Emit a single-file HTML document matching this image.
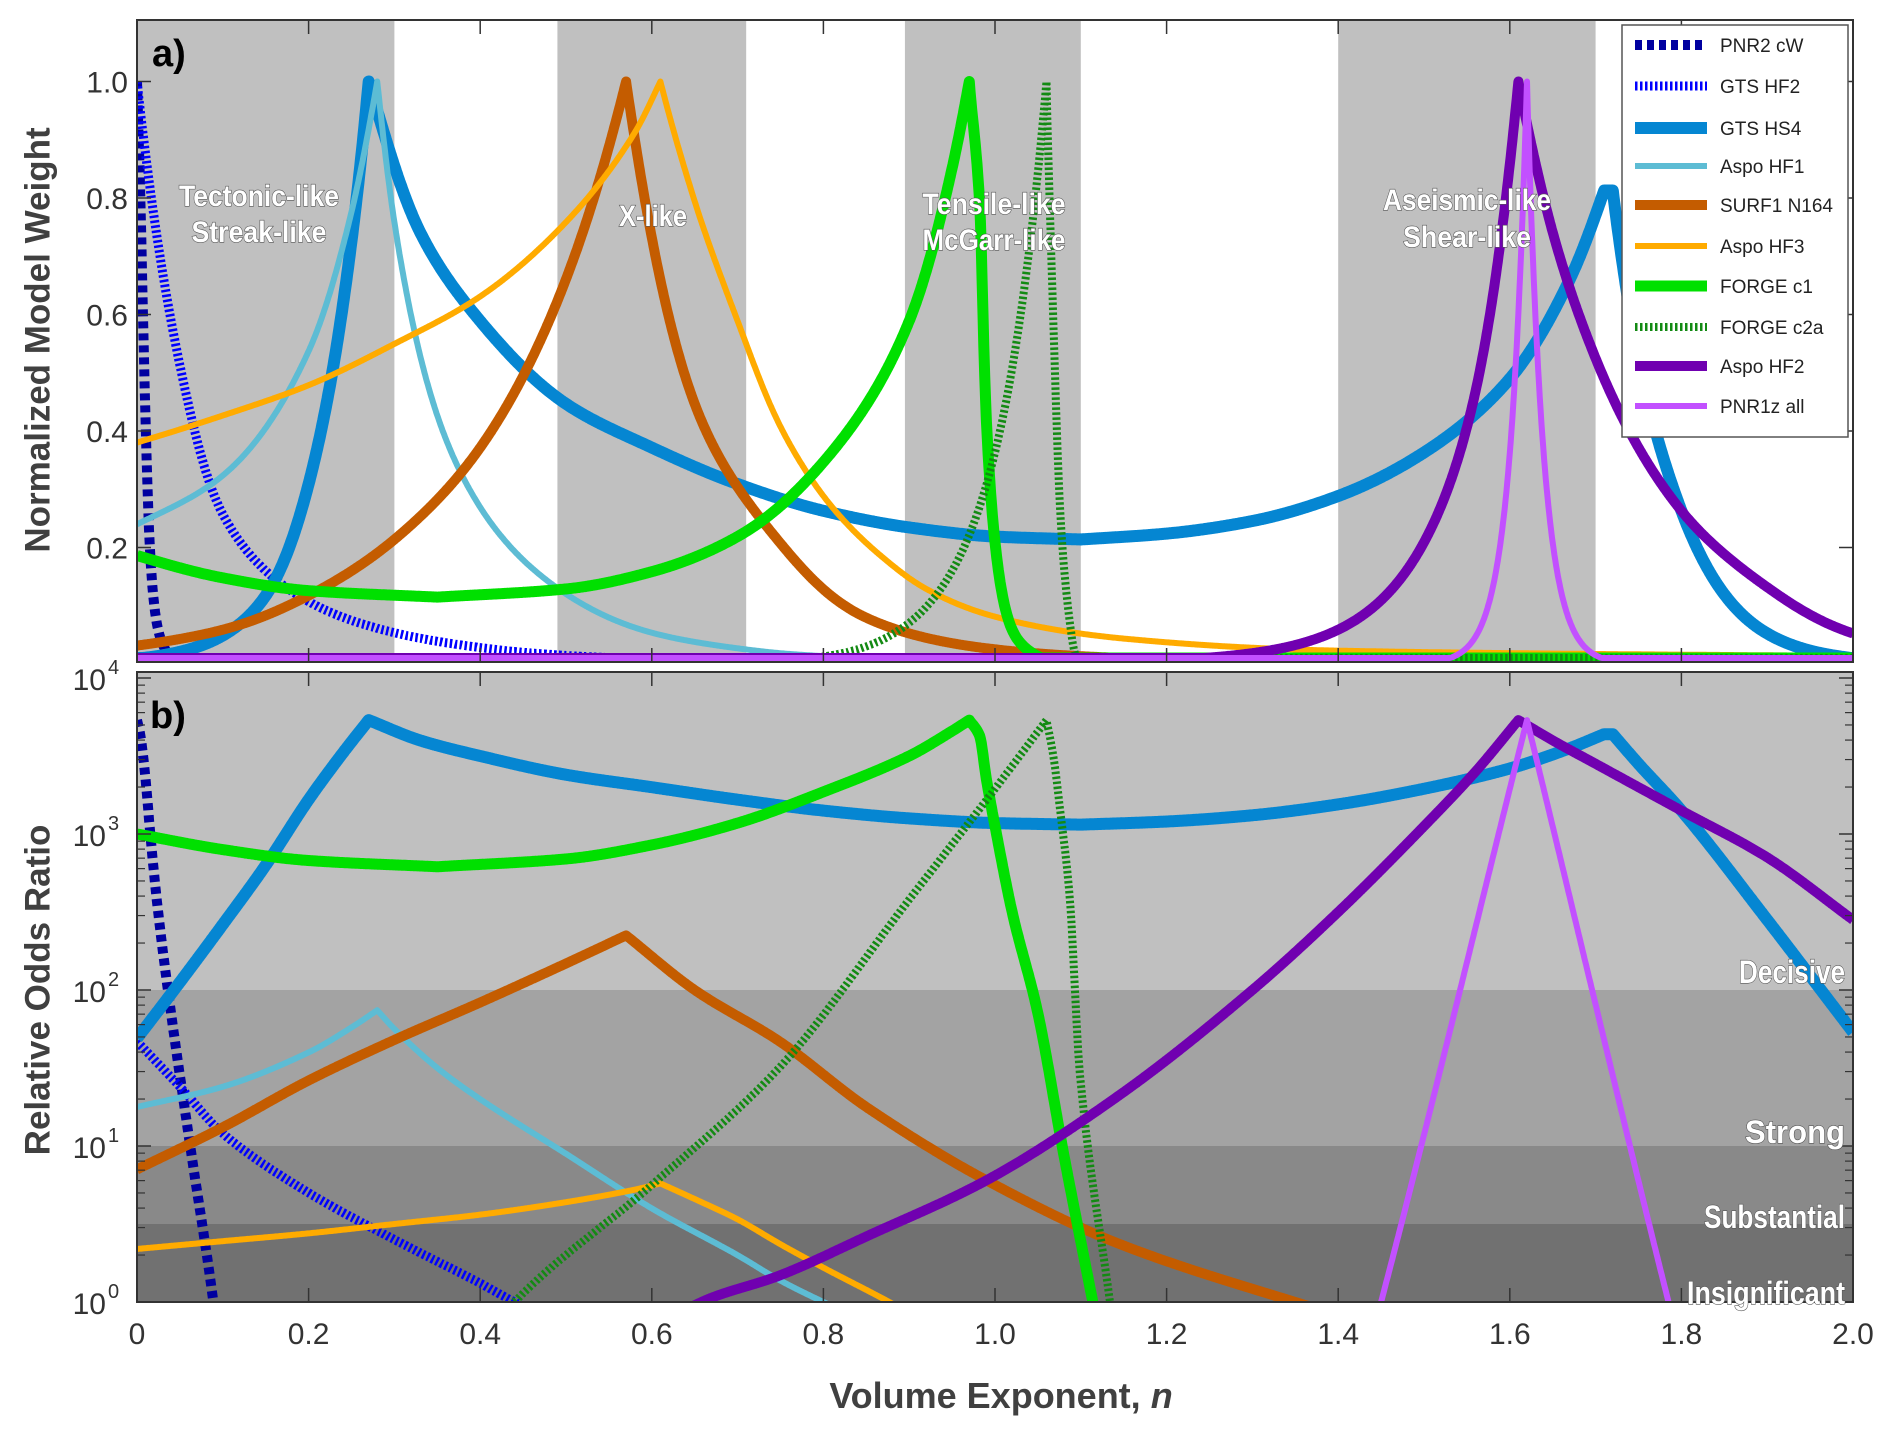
<!DOCTYPE html>
<html><head><meta charset="utf-8"><style>
html,body{margin:0;padding:0;background:#fff;}
svg{display:block;font-family:"Liberation Sans",sans-serif;}
.ann{font-family:"Liberation Sans Narrow","Liberation Sans",sans-serif;font-weight:bold;fill:#fff;stroke:#555;stroke-width:1.2px;paint-order:stroke;}
.tick{fill:#333;font-size:30px;}
</style></head><body>
<svg id="chart" width="1892" height="1436" viewBox="0 0 1892 1436">
<defs>
<clipPath id="clipA"><rect x="137" y="20" width="1716" height="642"/></clipPath>
<clipPath id="clipB"><rect x="137" y="672" width="1716" height="630"/></clipPath>
</defs>
<g id="panelA"></g>
<g id="panelB"></g>
<g id="labels">
<text x="40" y="340" transform="rotate(-90 40 340)" text-anchor="middle" dominant-baseline="middle" font-size="35" font-weight="bold" fill="#404040">Normalized Model Weight</text>
<text x="40" y="990" transform="rotate(-90 40 990)" text-anchor="middle" dominant-baseline="middle" font-size="35" font-weight="bold" fill="#404040">Relative Odds Ratio</text>
<text x="1001" y="1408" text-anchor="middle" font-size="36" font-weight="bold" fill="#404040">Volume Exponent, <tspan font-style="italic">n</tspan></text>
</g>
</svg>
<script>
// x positions (volume exponent) and log10 relative odds for each series
const pnr2cwX=[0,0.004,0.01,0.015,0.023,0.036,0.062,0.089,0.12,0.3,2.0];
const pnr2cwL=[3.73,3.63,3.35,3.03,2.58,2.0,1.0,0,-1.5,-4,-8];
const gtshf2X=[0,0.05,0.1,0.2,0.3,0.4,0.44,0.6,1.0,2.0];
const gtshf2L=[1.67,1.38,1.08,0.7,0.4,0.12,0,-0.4,-1,-2];
const gtshs4X=[0,0.05,0.1,0.15,0.2,0.24,0.27,0.33,0.4,0.5,0.6,0.7,0.8,0.9,1.0,1.1,1.2,1.3,1.4,1.5,1.6,1.67,1.71,1.72,1.75,1.8,1.9,2.0];
const gtshs4L=[1.69,2.05,2.42,2.8,3.22,3.52,3.73,3.6,3.5,3.38,3.3,3.22,3.15,3.1,3.07,3.06,3.08,3.12,3.19,3.29,3.42,3.55,3.64,3.64,3.45,3.15,2.45,1.73];
const aspohf1X=[0,0.1,0.2,0.25,0.28,0.3,0.35,0.4,0.5,0.6,0.7,0.749,0.8,1.0,2.0];
const aspohf1L=[1.25,1.38,1.6,1.76,1.87,1.75,1.5,1.3,0.95,0.6,0.3,0.14,0,-0.5,-1.5];
const surfX=[0,0.1,0.2,0.3,0.4,0.5,0.57,0.65,0.749,0.85,0.99,1.146,1.35,1.6,2.0];
const surfL=[0.85,1.12,1.42,1.68,1.92,2.17,2.35,2.0,1.67,1.25,0.78,0.37,0,-0.4,-0.9];
const aspohf3X=[0,0.1,0.2,0.3,0.4,0.5,0.58,0.61,0.65,0.7,0.75,0.8,0.87,0.92,1.0,1.15,1.4,2.0];
const aspohf3L=[0.34,0.39,0.44,0.5,0.56,0.64,0.72,0.76,0.66,0.53,0.37,0.22,0.02,-0.13,-0.33,-0.6,-0.88,-1.1];
const forgec1X=[0,0.1,0.2,0.35,0.5,0.6,0.7,0.8,0.9,0.95,0.97,0.982,0.99,1.0,1.02,1.05,1.08,1.114,1.15,1.3,2.0];
const forgec1L=[3.0,2.9,2.83,2.79,2.84,2.93,3.07,3.27,3.5,3.66,3.73,3.63,3.35,3.05,2.5,1.85,0.95,0,-1,-3,-6];
const forgec2aX=[0,0.3,0.44,0.6,0.75,0.9,1.0,1.06,1.068,1.076,1.087,1.099,1.134,1.17,2.0];
const forgec2aL=[-4,-1.0,0,0.75,1.51,2.58,3.29,3.73,3.5,3.15,2.6,1.46,0,-1.5,-6];
const aspohf2X=[0,0.5,0.658,0.749,0.85,0.99,1.146,1.3,1.4,1.5,1.56,1.61,1.65,1.7,1.8,1.9,2.0];
const aspohf2L=[-4,-0.6,0,0.17,0.42,0.78,1.33,2.0,2.5,3.05,3.4,3.73,3.6,3.45,3.15,2.85,2.45];
const pnr1zX=[0,1.3,1.45,1.62,1.785,1.95,2.0];
const pnr1zL=[-8,-3,0,3.73,0,-3.5,-5];

const seriesNames=['PNR2 cW','GTS HF2','GTS HS4','Aspo HF1','SURF1 N164','Aspo HF3','FORGE c1','FORGE c2a','Aspo HF2','PNR1z all'];
const xTicks=[0,0.2,0.4,0.6,0.8,1.0,1.2,1.4,1.6,1.8,2.0];
const xTickLabels=['0','0.2','0.4','0.6','0.8','1.0','1.2','1.4','1.6','1.8','2.0'];
const aTicks=[0.2,0.4,0.6,0.8,1.0];
const aTickLabels=['0.2','0.4','0.6','0.8','1.0'];
const bTicks=[0,1,2,3,4];
const bands=[[0,0.3],[0.49,0.71],[0.895,1.1],[1.4,1.7]];
const oddsLevels=[0,0.5,1,2,4.12];
const oddsNames=['Insignificant','Substantial','Strong','Decisive'];

const NS='http://www.w3.org/2000/svg';
const L=137,R=1853,AT=20,AB=662,BT=672,BB=1302;
const xs=x=>L+(x/2)*(R-L);
const ay=v=>664-v*582.5;
const by=l=>1302-l*156;
function mk(tag,attrs,parent){const e=document.createElementNS(NS,tag);for(const k in attrs)e.setAttribute(k,attrs[k]);parent.appendChild(e);return e;}
function makeInterp(X,Y){
 const n=X.length,d=[],mL=[],mR=[];
 for(let i=0;i<n-1;i++)d.push((Y[i+1]-Y[i])/(X[i+1]-X[i]));
 for(let i=0;i<n;i++){
  if(i===0){mL[i]=mR[i]=d[0];continue;}
  if(i===n-1){mL[i]=mR[i]=d[n-2];continue;}
  const a=d[i-1],b=d[i];
  if(a*b>0){const m=2*a*b/(a+b);mL[i]=mR[i]=m;}
  else{mL[i]=a;mR[i]=b;}
 }
 return function(x){
  if(x<=X[0])return Y[0];
  for(let i=1;i<n;i++){if(x<=X[i]){
   const h=X[i]-X[i-1],t=(x-X[i-1])/h,t2=t*t,t3=t2*t;
   return (2*t3-3*t2+1)*Y[i-1]+(t3-2*t2+t)*h*mR[i-1]+(-2*t3+3*t2)*Y[i]+(t3-t2)*h*mL[i];}}
  return Y[n-1];};
}

const styles=[
 {c:'#0000a0',w:10,d:'7 5'},{c:'#0000ff',w:9,d:'2.5 2.5'},{c:'#0586d2',w:12,d:''},{c:'#5dbcd4',w:6,d:''},
 {c:'#c45c00',w:10,d:''},{c:'#ffab00',w:6,d:''},{c:'#00e000',w:11,d:''},{c:'#138a13',w:8,d:'2.5 2.5'},
 {c:'#7000b0',w:10,d:''},{c:'#c250ff',w:6,d:''}];
const dataX=[pnr2cwX,gtshf2X,gtshs4X,aspohf1X,surfX,aspohf3X,forgec1X,forgec2aX,aspohf2X,pnr1zX];
const dataL=[pnr2cwL,gtshf2L,gtshs4L,aspohf1L,surfL,aspohf3L,forgec1L,forgec2aL,aspohf2L,pnr1zL];
const keys=['pnr2-cw','gts-hf2','gts-hs4','aspo-hf1','surf1-n164','aspo-hf3','forge-c1','forge-c2a','aspo-hf2','pnr1z-all'];

const A=document.getElementById('panelA'),B=document.getElementById('panelB');
const bgA=mk('rect',{x:L,y:AT,width:R-L,height:AB-AT,fill:'#fff'},A);


bands.forEach((b,i)=>{const r=mk('rect',{x:xs(b[0]),y:AT,width:xs(b[1])-xs(b[0]),height:AB-AT,fill:'#c0c0c0'},A);
 
 });
const bandCols=['#717171','#898989','#a3a3a3','#c0c0c0'];
for(let i=0;i<4;i++){const y1=Math.max(BT,by(oddsLevels[i+1])),y0=by(oddsLevels[i]);
 const r=mk('rect',{x:L,y:y1,width:R-L,height:y0-y1,fill:bandCols[i]},B);
 
 }
const gA=mk('g',{'clip-path':'url(#clipA)'},A),gB=mk('g',{'clip-path':'url(#clipB)'},B);
for(let s=0;s<10;s++){
 const X=dataX[s],Y=dataL[s],mx=Math.max(...Y),f=makeInterp(X,Y);
 let pa='',pb='';
 for(let x=X[0];x<=X[X.length-1]+1e-9;x+=0.001){
  const l=f(x);
  const ya=Math.min(ay(Math.pow(10,Math.min(l-mx,0))),658);
  pa+=(pa?'L':'M')+xs(x).toFixed(1)+','+ya.toFixed(1);
  pb+=(pb?'L':'M')+xs(x).toFixed(1)+','+Math.min(by(l),1330).toFixed(1);
 }
 const st=styles[s];
 const la=mk('path',{d:pa,fill:'none',stroke:st.c,'stroke-width':st.w,'stroke-dasharray':st.d,'stroke-linejoin':'round'},gA);
 
 
 const lb=mk('path',{d:pb,fill:'none',stroke:st.c,'stroke-width':st.w,'stroke-dasharray':st.d,'stroke-linejoin':'round'},gB);
 
 
}
mk('rect',{x:L,y:AT,width:R-L,height:AB-AT,fill:'none',stroke:'#333','stroke-width':2},A);
mk('rect',{x:L,y:BT,width:R-L,height:BB-BT,fill:'none',stroke:'#333','stroke-width':2},B);
xTicks.forEach((t,i)=>{const x=xs(t);
 mk('line',{x1:x,y1:AT,x2:x,y2:AT+14,stroke:'#333','stroke-width':1.5},A);
 mk('line',{x1:x,y1:AB,x2:x,y2:AB-14,stroke:'#333','stroke-width':1.5},A);
 mk('line',{x1:x,y1:BT,x2:x,y2:BT+14,stroke:'#333','stroke-width':1.5},B);
 mk('line',{x1:x,y1:BB,x2:x,y2:BB-14,stroke:'#333','stroke-width':1.5},B);
 const tx=mk('text',{x:x,y:1344,'text-anchor':'middle',class:'tick'},B);tx.textContent=xTickLabels[i];
 
 });
aTicks.forEach((t,i)=>{const y=ay(t);
 mk('line',{x1:L,y1:y,x2:L+14,y2:y,stroke:'#333','stroke-width':1.5},A);
 mk('line',{x1:R,y1:y,x2:R-14,y2:y,stroke:'#333','stroke-width':1.5},A);
 const tx=mk('text',{x:128,y:y+11,'text-anchor':'end',class:'tick'},A);tx.textContent=aTickLabels[i];
 
 });
bTicks.forEach(t=>{const y=by(t);
 mk('line',{x1:L,y1:y,x2:L+14,y2:y,stroke:'#333','stroke-width':1.5},B);
 mk('line',{x1:R,y1:y,x2:R-14,y2:y,stroke:'#333','stroke-width':1.5},B);
 if(t<4)for(let m=2;m<10;m++){const ym=by(t+Math.log10(m));
  mk('line',{x1:L,y1:ym,x2:L+8,y2:ym,stroke:'#333','stroke-width':1.2},B);
  mk('line',{x1:R,y1:ym,x2:R-8,y2:ym,stroke:'#333','stroke-width':1.2},B);}
 const tx=mk('text',{x:106,y:y+12,'text-anchor':'end',class:'tick'},B);tx.textContent='10';
 
 
 const sp=mk('text',{x:108,y:y-4,'text-anchor':'start',fill:'#333','font-size':20},B);sp.textContent=String(t);
 
 });
const pa=mk('text',{x:152,y:66,'font-size':38,'font-weight':'bold',fill:'#000'},A);pa.textContent='a)';


const pb2=mk('text',{x:150,y:728,'font-size':38,'font-weight':'bold',fill:'#000'},B);pb2.textContent='b)';


const anns=[['Tectonic-like',259,206,160],['Streak-like',259,242,135],['X-like',653,226,68],['Tensile-like',994,214,143],['McGarr-like',994,250,143],['Aseismic-like',1467,210,168],['Shear-like',1467,247,128]];
anns.forEach(a=>{const t=mk('text',{x:a[1]-a[3]/2,y:a[2],class:'ann','font-size':30,textLength:a[3],lengthAdjust:'spacingAndGlyphs'},A);t.textContent=a[0];
 
 });
const oddsY=[1304,1228,1143,983];
const oddsW=[158,141,100,106];
oddsNames.forEach((n,i)=>{const t=mk('text',{x:1845-oddsW[i],y:oddsY[i],class:'ann','font-size':32,textLength:oddsW[i],lengthAdjust:'spacingAndGlyphs'},B);
 t.textContent=n;
 
 });
const lg=mk('g',{},A);


mk('rect',{x:1622,y:25,width:226,height:412,fill:'#fff',stroke:'#555','stroke-width':1.5},lg);
const legY=[45,86,128,166,205,246,286,327,366,406];
for(let s=0;s<10;s++){const st=styles[s];
 const e=mk('g',{},lg);
 
 
 mk('line',{x1:1635,y1:legY[s],x2:1707,y2:legY[s],stroke:st.c,'stroke-width':st.w,'stroke-dasharray':st.d},e);
 const t=mk('text',{x:1720,y:legY[s]+7,'font-size':19,fill:'#222'},e);t.textContent=seriesNames[s];}
</script>
</body></html>
